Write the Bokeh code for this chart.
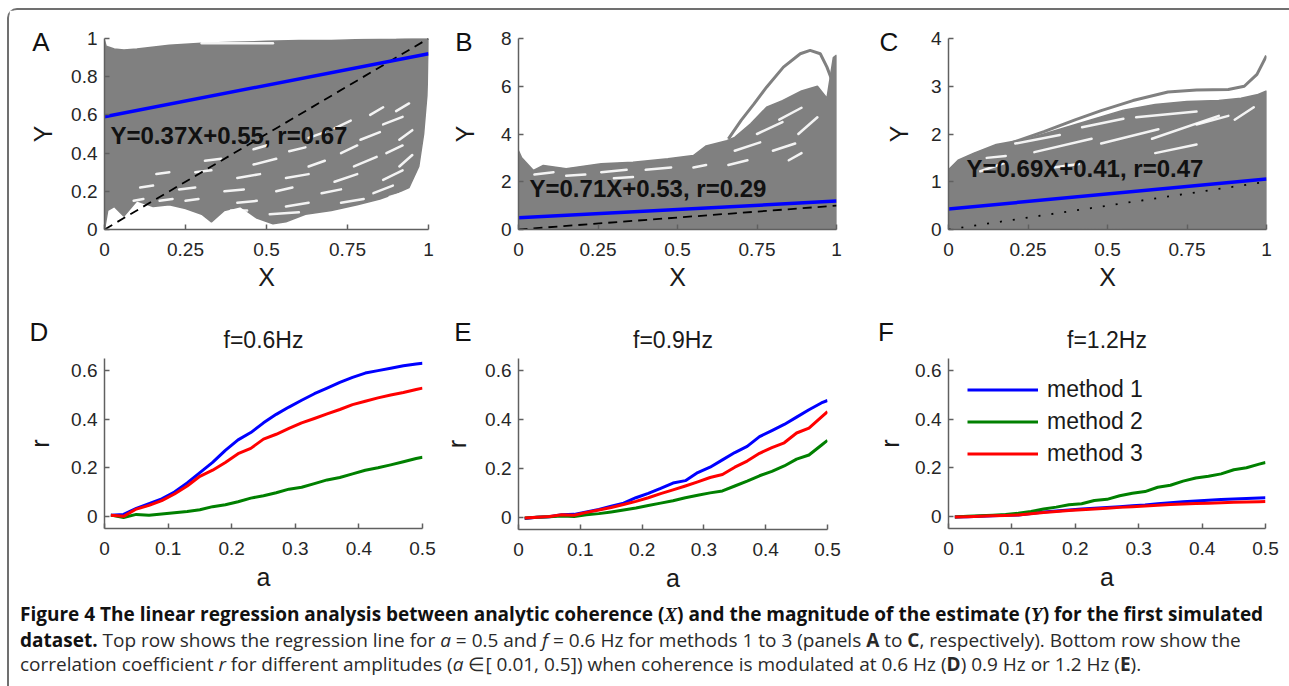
from bokeh.plotting import figure
from bokeh.models import Range1d, FixedTicker, Label, Legend, LegendItem, Div, GridBox
from bokeh.embed import file_html
from bokeh.resources import INLINE

# ---------------- data: top row ----------------
top_x_ticks = [0, 0.25, 0.5, 0.75, 1]
top_x_labels = ["0", "0.25", "0.5", "0.75", "1"]
a_y_ticks = [0, 0.2, 0.4, 0.6, 0.8, 1]
a_y_labels = ["0", "0.2", "0.4", "0.6", "0.8", "1"]
b_y_ticks = [0, 2, 4, 6, 8]
b_y_labels = ["0", "2", "4", "6", "8"]
c_y_ticks = [0, 1, 2, 3, 4]
c_y_labels = ["0", "1", "2", "3", "4"]

diag_x = [0, 1]
diag_y = [0, 1]
fit_x = [0, 1]

# panel A : band of estimates (upper and lower envelope), white gaps, fit
a_top_x = [0, 0.005, 0.03, 0.06, 0.1, 0.2, 0.3, 0.4, 0.5, 0.6, 0.7, 0.8, 0.9, 0.95, 1.0]
a_top_y = [0.99, 0.96, 0.945, 0.94, 0.945, 0.965, 0.975, 0.98, 0.985, 0.99, 0.99, 0.995, 0.997, 1.0, 1.0]
a_bot_x = [0, 0.01, 0.03, 0.06, 0.1, 0.15, 0.2, 0.25, 0.3, 0.33, 0.37, 0.42, 0.47, 0.52, 0.56,
           0.62, 0.7, 0.78, 0.85, 0.9, 0.94, 0.97, 0.985, 0.995, 1.0]
a_bot_y = [0.0, 0.1, 0.12, 0.07, 0.15, 0.12, 0.13, 0.11, 0.08, 0.04, 0.1, 0.12, 0.06, 0.03, 0.04,
           0.08, 0.1, 0.13, 0.16, 0.19, 0.22, 0.33, 0.5, 0.7, 0.97]
a_gap_x0 = [0.30, 0.82, 0.90, 0.71, 0.86, 0.63, 0.79, 0.91, 0.46, 0.57, 0.73, 0.87, 0.31, 0.46, 0.63,
            0.77, 0.91, 0.16, 0.28, 0.41, 0.56, 0.71, 0.86, 0.11, 0.23, 0.37, 0.53, 0.67, 0.83,
            0.09, 0.17, 0.25, 0.41, 0.56, 0.73, 0.88, 0.51, 0.39]
a_gap_y0 = [0.975, 0.60, 0.62, 0.53, 0.55, 0.48, 0.47, 0.47, 0.42, 0.41, 0.40, 0.40, 0.36, 0.34, 0.33,
            0.33, 0.33, 0.29, 0.30, 0.27, 0.27, 0.25, 0.26, 0.22, 0.21, 0.20, 0.20, 0.19, 0.19,
            0.15, 0.15, 0.15, 0.14, 0.12, 0.14, 0.17, 0.08, 0.10]
a_gap_x1 = [0.52, 0.86, 0.94, 0.76, 0.92, 0.68, 0.85, 0.95, 0.50, 0.62, 0.78, 0.92, 0.36, 0.53, 0.68,
            0.84, 0.95, 0.20, 0.33, 0.48, 0.63, 0.78, 0.92, 0.15, 0.28, 0.43, 0.58, 0.73, 0.89,
            0.12, 0.21, 0.29, 0.47, 0.63, 0.80, 0.92, 0.60, 0.44]
a_gap_y1 = [0.975, 0.64, 0.66, 0.57, 0.59, 0.51, 0.51, 0.52, 0.44, 0.43, 0.44, 0.44, 0.37, 0.37, 0.36,
            0.38, 0.39, 0.30, 0.31, 0.29, 0.29, 0.29, 0.31, 0.23, 0.22, 0.21, 0.22, 0.21, 0.23,
            0.16, 0.16, 0.16, 0.15, 0.14, 0.16, 0.19, 0.09, 0.10]
a_fit_y = [0.59, 0.92]
a_fit_text = "Y=0.37X+0.55, r=0.67"

# panel B
b_top_x = [0, 0.01, 0.047, 0.078, 0.15, 0.26, 0.36, 0.47, 0.55, 0.59, 0.655, 0.68, 0.73, 0.78,
           0.83, 0.89, 0.94, 0.97, 0.99, 1.0]
b_top_y = [3.3, 3.0, 2.47, 2.68, 2.55, 2.75, 2.82, 2.96, 3.1, 3.5, 3.72, 3.86, 4.43, 5.12,
           5.4, 5.8, 6.0, 5.5, 7.2, 7.3]
b_bot_x = [0, 1]
b_bot_y = [0, 0]
b_arc_x = [0.66, 0.70, 0.74, 0.78, 0.833, 0.886, 0.917, 0.949, 0.97, 0.986]
b_arc_y = [3.8, 4.57, 5.25, 5.96, 6.8, 7.36, 7.5, 7.36, 6.8, 6.24]
b_gap_x0 = [0.05, 0.15, 0.26, 0.40, 0.30, 0.55, 0.66, 0.68, 0.75, 0.80, 0.85, 0.88, 0.82]
b_gap_y0 = [2.3, 2.25, 2.4, 2.5, 2.15, 2.6, 2.7, 3.3, 4.0, 3.3, 2.9, 4.0, 4.6]
b_gap_x1 = [0.11, 0.21, 0.34, 0.48, 0.36, 0.59, 0.72, 0.76, 0.83, 0.87, 0.89, 0.94, 0.89]
b_gap_y1 = [2.4, 2.3, 2.5, 2.6, 2.2, 2.7, 2.9, 3.65, 4.5, 3.6, 3.2, 4.7, 5.1]
b_fit_y = [0.49, 1.19]
b_fit_text = "Y=0.71X+0.53, r=0.29"

# panel C
c_top_x = [0, 0.03, 0.08, 0.15, 0.25, 0.35, 0.45, 0.55, 0.65, 0.75, 0.85, 0.92, 0.97, 1.0]
c_top_y = [1.25, 1.45, 1.6, 1.78, 1.9, 2.1, 2.3, 2.5, 2.62, 2.68, 2.7, 2.75, 2.82, 2.9]
c_bot_x = [0, 0.3, 1]
c_bot_y = [0, 0.01, 0.02]
c_arc_x = [0.2, 0.3, 0.4, 0.48, 0.58, 0.69, 0.78, 0.88, 0.93, 0.97, 1.0]
c_arc_y = [1.82, 2.05, 2.3, 2.49, 2.7, 2.88, 2.92, 2.93, 3.0, 3.25, 3.64]
c_gap_x0 = [0.12, 0.21, 0.27, 0.42, 0.48, 0.59, 0.64, 0.78, 0.90, 0.65, 0.10, 0.33]
c_gap_y0 = [1.5, 1.8, 1.62, 2.14, 1.8, 2.35, 1.9, 2.2, 2.3, 1.6, 1.22, 1.3]
c_gap_x1 = [0.18, 0.35, 0.45, 0.55, 0.66, 0.78, 0.85, 0.88, 0.96, 0.78, 0.18, 0.41]
c_gap_y1 = [1.54, 1.98, 1.9, 2.32, 2.1, 2.47, 2.38, 2.38, 2.56, 1.78, 1.4, 1.37]
c_fit_y = [0.43, 1.06]
c_fit_text = "Y=0.69X+0.41, r=0.47"

# ---------------- data: bottom row ----------------
bot_x_ticks = [0, 0.1, 0.2, 0.3, 0.4, 0.5]
bot_x_labels = ["0", "0.1", "0.2", "0.3", "0.4", "0.5"]
bot_y_ticks = [0, 0.2, 0.4, 0.6]
bot_y_labels = ["0", "0.2", "0.4", "0.6"]

amp = [0.01, 0.03, 0.05, 0.07, 0.09, 0.11, 0.13, 0.15, 0.17, 0.19, 0.21, 0.23, 0.25,
       0.27, 0.29, 0.31, 0.33, 0.35, 0.37, 0.39, 0.41, 0.43, 0.45, 0.47, 0.49, 0.50]

d_m1 = [0.005, 0.008, 0.033, 0.052, 0.072, 0.100, 0.138, 0.180, 0.222, 0.272, 0.315, 0.345, 0.385,
        0.420, 0.450, 0.478, 0.505, 0.528, 0.552, 0.572, 0.590, 0.600, 0.610, 0.620, 0.627, 0.630]
d_m2 = [0.005, -0.005, 0.008, 0.005, 0.010, 0.015, 0.020, 0.027, 0.040, 0.048, 0.060, 0.075, 0.085,
        0.097, 0.112, 0.120, 0.135, 0.150, 0.160, 0.175, 0.190, 0.200, 0.212, 0.225, 0.238, 0.243]
d_m3 = [0.005, 0.000, 0.030, 0.045, 0.065, 0.092, 0.125, 0.165, 0.190, 0.222, 0.258, 0.280, 0.318,
        0.338, 0.362, 0.385, 0.403, 0.422, 0.440, 0.460, 0.474, 0.488, 0.500, 0.510, 0.522, 0.528]

e_m1 = [-0.005, 0.000, 0.002, 0.010, 0.012, 0.022, 0.032, 0.045, 0.058, 0.080, 0.098, 0.118, 0.140,
        0.150, 0.183, 0.205, 0.235, 0.265, 0.290, 0.330, 0.355, 0.380, 0.410, 0.440, 0.468, 0.478]
e_m2 = [-0.003, 0.000, 0.002, 0.005, 0.003, 0.010, 0.015, 0.022, 0.030, 0.038, 0.048, 0.058, 0.068,
        0.080, 0.090, 0.100, 0.108, 0.128, 0.148, 0.170, 0.188, 0.210, 0.238, 0.255, 0.295, 0.315]
e_m3 = [-0.003, 0.000, 0.003, 0.010, 0.008, 0.020, 0.030, 0.040, 0.052, 0.065, 0.080, 0.097, 0.112,
        0.128, 0.145, 0.163, 0.175, 0.205, 0.230, 0.262, 0.285, 0.305, 0.345, 0.365, 0.410, 0.432]

f_m1 = [-0.003, -0.002, 0.000, 0.003, 0.005, 0.006, 0.012, 0.018, 0.022, 0.026, 0.030, 0.033, 0.036,
        0.040, 0.044, 0.047, 0.052, 0.056, 0.060, 0.063, 0.066, 0.069, 0.071, 0.074, 0.076, 0.077]
f_m2 = [-0.003, 0.000, 0.003, 0.005, 0.008, 0.013, 0.020, 0.030, 0.038, 0.048, 0.052, 0.065, 0.070,
        0.085, 0.095, 0.102, 0.120, 0.128, 0.145, 0.158, 0.165, 0.175, 0.192, 0.200, 0.215, 0.222]
f_m3 = [-0.003, -0.002, 0.000, 0.002, 0.004, 0.006, 0.011, 0.016, 0.020, 0.024, 0.027, 0.030, 0.033,
        0.037, 0.040, 0.043, 0.046, 0.049, 0.051, 0.053, 0.054, 0.056, 0.058, 0.059, 0.060, 0.061]

methods = ["method 1", "method 2", "method 3"]
titles = ["f=0.6Hz", "f=0.9Hz", "f=1.2Hz"]
letters = ["A", "B", "C", "D", "E", "F"]

# ---------------- layout (page pixels) ----------------
FONT = "Liberation Sans"
GRAY = "#808080"
AXC = "#606060"
OX, OY = 9, 10
COLS = [(9, 440), (440, 860), (860, 1287)]
ROWS = [(10, 300), (300, 590)]
CAP_H = 96
FRAMES = {
    "A": (104, 38, 428, 229), "B": (515, 38, 833, 229), "C": (940, 38, 1258, 229),
    "D": (103, 358, 421, 528), "E": (512, 357, 821, 528), "F": (942, 358, 1259, 528),
}
LETTER_X = [41, 464, 889, 39, 463, 886]
LETTER_Y = [42, 42, 42, 332, 332, 332]


def to_data(key, xr, yr, px, py):
    fl, ft, fr, fb = FRAMES[key]
    x = xr[0] + (px - fl) / (fr - fl) * (xr[1] - xr[0])
    y = yr[0] + (fb - py) / (fb - ft) * (yr[1] - yr[0])
    return x, y


def make_fig(key, col, rw, xr, yr, xt, xl, yt, yl, xlabel, ylabel, ystand, xstand):
    fl, ft, fr, fb = FRAMES[key]
    p = figure(frame_width=fr - fl, frame_height=fb - ft,
               min_border_left=fl - col[0], min_border_right=col[1] - fr,
               min_border_top=ft - rw[0], min_border_bottom=rw[1] - fb,
               x_range=Range1d(*xr), y_range=Range1d(*yr),
               output_backend="svg", toolbar_location=None)
    p.outline_line_color = None
    p.xgrid.grid_line_color = None
    p.ygrid.grid_line_color = None
    p.background_fill_color = "white"
    p.border_fill_color = "white"
    for ax in (p.xaxis[0], p.yaxis[0]):
        ax.axis_line_color = AXC
        ax.axis_line_width = 1.5
        ax.major_tick_line_color = AXC
        ax.major_tick_line_width = 1.5
        ax.major_tick_in = 5
        ax.major_tick_out = 0
        ax.minor_tick_line_color = None
        ax.major_label_text_font = FONT
        ax.major_label_text_font_size = "19px"
        ax.major_label_text_color = "#262626"
        ax.axis_label_text_font = FONT
        ax.axis_label_text_font_size = "25px"
        ax.axis_label_text_font_style = "normal"
        ax.axis_label_text_color = "#1a1a1a"
    p.xaxis.ticker = FixedTicker(ticks=xt)
    p.xaxis.major_label_overrides = dict(zip(xt, xl))
    p.yaxis.ticker = FixedTicker(ticks=yt)
    p.yaxis.major_label_overrides = dict(zip(yt, yl))
    p.xaxis.axis_label = xlabel
    p.yaxis.axis_label = ylabel
    p.xaxis.major_label_standoff = 13
    p.xaxis.axis_label_standoff = xstand
    p.yaxis.major_label_standoff = 7
    p.yaxis.axis_label_standoff = ystand
    return p


def top_panel(key, col, yr, yt, yl, top_x, top_y, bot_x, bot_y, arc, gaps, fit_y, fit_text,
              text_px, dash, ystand):
    xr = (0, 1)
    p = make_fig(key, col, ROWS[0], xr, yr, top_x_ticks, top_x_labels, yt, yl, "X", "Y",
                 ystand, 4)
    px_ = list(top_x) + list(bot_x)[::-1]
    py_ = list(top_y) + list(bot_y)[::-1]
    p.patch(px_, py_, fill_color=GRAY, line_color=GRAY, line_width=1.5)
    if arc is not None:
        p.line(arc[0], arc[1], line_color=GRAY, line_width=3)
    p.segment(gaps[0], gaps[1], gaps[2], gaps[3], line_color="white", line_width=2.5,
              line_cap="round", line_alpha=0.9)
    p.line(diag_x, diag_y, line_color="black", line_width=1.8, line_dash=dash)
    p.line(fit_x, fit_y, line_color="#0000ff", line_width=3.5)
    tx, ty = to_data(key, xr, yr, *text_px)
    p.add_layout(Label(x=tx, y=ty, text=fit_text, text_font=FONT, text_font_size="24px",
                       text_font_style="bold", text_color="#111111", text_align="left",
                       text_baseline="middle"))
    return p


fa = top_panel("A", COLS[0], (0, 1), a_y_ticks, a_y_labels, a_top_x, a_top_y, a_bot_x, a_bot_y,
               None, (a_gap_x0, a_gap_y0, a_gap_x1, a_gap_y1), a_fit_y, a_fit_text,
               (110, 135), "9 6", 11)
fb = top_panel("B", COLS[1], (0, 8), b_y_ticks, b_y_labels, b_top_x, b_top_y, b_bot_x, b_bot_y,
               (b_arc_x, b_arc_y), (b_gap_x0, b_gap_y0, b_gap_x1, b_gap_y1), b_fit_y, b_fit_text,
               (526, 188), "9 6", 19)
fc = top_panel("C", COLS[2], (0, 4), c_y_ticks, c_y_labels, c_top_x, c_top_y, c_bot_x, c_bot_y,
               (c_arc_x, c_arc_y), (c_gap_x0, c_gap_y0, c_gap_x1, c_gap_y1), c_fit_y, c_fit_text,
               (958, 168), "2 11", 15)

colors = ["#0000ff", "#008000", "#ff0000"]


def bottom_panel(key, col, series, title, ystand, toff, legend=False):
    xr = (0, 0.5)
    yr = (-0.05, 0.65)
    p = make_fig(key, col, ROWS[1], xr, yr, bot_x_ticks, bot_x_labels, bot_y_ticks, bot_y_labels,
                 "a", "r", ystand, 5)
    p.title.text = title
    p.title.align = "center"
    p.title.text_font = FONT
    p.title.text_font_size = "23px"
    p.title.text_font_style = "normal"
    p.title.text_color = "#1a1a1a"
    p.title.offset = toff
    p.title.standoff = 12
    rends = []
    for s, c in zip(series, colors):
        rends.append(p.line(amp, s, line_color=c, line_width=3, line_join="round"))
    if legend:
        leg = Legend(items=[LegendItem(label=m, renderers=[r]) for m, r in zip(methods, rends)],
                     location=(19, 61), border_line_color=None, background_fill_alpha=0,
                     label_text_font=FONT, label_text_font_size="23px",
                     label_text_color="#1a1a1a", glyph_width=71, glyph_height=25,
                     label_height=25, label_standoff=9, spacing=5, padding=0, margin=0)
        p.add_layout(leg)
    return p


fd = bottom_panel("D", COLS[0], (d_m1, d_m2, d_m3), titles[0], 14, 0)
fe = bottom_panel("E", COLS[1], (e_m1, e_m2, e_m3), titles[1], 11, 10)
ff = bottom_panel("F", COLS[2], (f_m1, f_m2, f_m3), titles[2], 8, 2, legend=True)

W = COLS[-1][1] - OX
H = ROWS[-1][1] - OY + CAP_H

# transparent HTML overlay carrying the panel letters
spans = "".join(
    "<span style=\"position:absolute;left:%dpx;top:%dpx;transform:translate(-50%%,-50%%);"
    "font-family:'Liberation Sans',sans-serif;font-size:26px;line-height:1;color:#111;\">%s</span>"
    % (x - OX, y - OY, t)
    for x, y, t in zip(LETTER_X, LETTER_Y, letters))
overlay = Div(text="<div style=\"position:relative;width:%dpx;height:%dpx;\">%s</div>"
              % (W, H, spans), width=W, height=H, margin=(0, 0, 0, 0))

caption_html = (
    "<div style=\"font-family:'Open Sans',sans-serif;font-size:19px;line-height:24.5px;"
    "color:#2a2a2a;white-space:nowrap;padding:9px 0 0 11px;\">"
    "<b style='color:#111'>Figure 4 The linear regression analysis between analytic coherence "
    "(<i style=\"font-family:'Liberation Serif',serif;\">X</i>) and the magnitude of the estimate "
    "(<i style=\"font-family:'Liberation Serif',serif;\">Y</i>) for the first simulated</b><br>"
    "<b style='color:#111'>dataset.</b> Top row shows the regression line for <i>a</i> = 0.5 and "
    "<i>f</i> = 0.6 Hz for methods 1 to 3 (panels <b>A</b> to <b>C</b>, respectively). "
    "Bottom row show the<br>"
    "correlation coefficient <i>r</i> for different amplitudes (<i>a</i> \u2208[ 0.01, 0.5]) "
    "when coherence is modulated at 0.6 Hz (<b>D</b>) 0.9 Hz or 1.2 Hz (<b>E</b>)."
    "</div>"
)
cap = Div(text=caption_html, width=W, height=CAP_H, margin=(0, 0, 0, 0))

root = GridBox(children=[(fa, 0, 0), (fb, 0, 1), (fc, 0, 2),
                         (fd, 1, 0), (fe, 1, 1), (ff, 1, 2),
                         (cap, 2, 0, 1, 3), (overlay, 0, 0, 3, 3)],
               styles={"margin-left": "7px", "margin-top": "8px",
                       "border-left": "2px solid #707070", "border-top": "2px solid #707070",
                       "border-top-left-radius": "10px"})

open("out.html", "w").write(file_html(root, INLINE))
